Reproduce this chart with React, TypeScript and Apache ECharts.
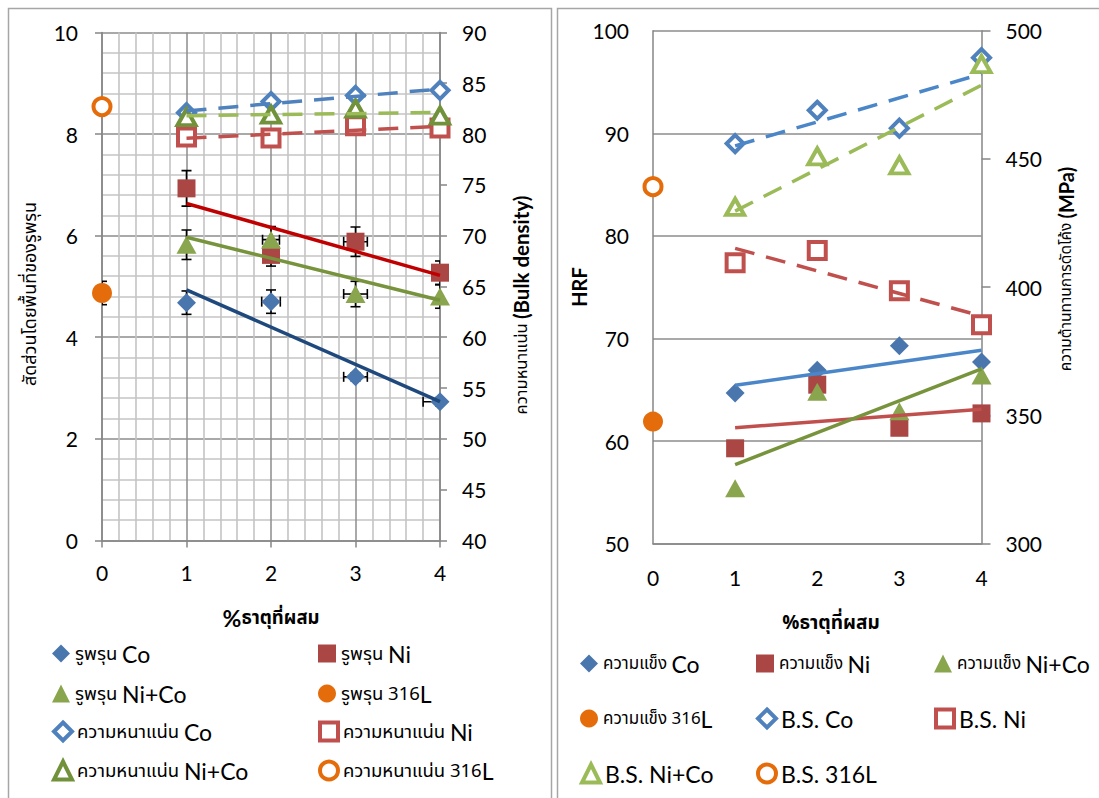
import React, { useEffect, useRef } from "react";
import * as echarts from "echarts";

// ---------- data ----------
const alloyX = [1, 2, 3, 4];
const refX = [0];

// left chart: porosity (area fraction, left axis) with error bars
const poreCo = [4.68, 4.7, 3.22, 2.73];
const poreNi = [6.93, 5.62, 5.88, 5.27];
const poreNiCo = [5.82, 5.92, 4.85, 4.8];
const pore316L = [4.87];
const poreCoErrY = [0.23, 0.23, 0.08, 0.08];
const poreCoErrX = [0, 0.11, 0.14, 0.2];
const poreNiErrY = [0.35, 0.22, 0.29, 0.23];
const poreNiErrX = [0, 0, 0.14, 0];
const poreNiCoErrY = [0.29, 0.26, 0.25, 0.23];
const poreNiCoErrX = [0, 0.1, 0.14, 0];
const pore316LErrY = [0.23];
const pore316LErrX = [0];

// left chart: bulk density (right axis)
const densCo = [82.1, 83.2, 83.8, 84.3];
const densNi = [79.7, 79.6, 80.8, 80.6];
const densNiCo = [81.65, 81.9, 82.5, 81.8];
const dens316L = [82.7];

// right chart: hardness HRF (left axis)
const hrfCo = [64.7, 66.9, 69.3, 67.7];
const hrfNi = [59.3, 65.5, 61.3, 62.7];
const hrfNiCo = [55.4, 64.8, 62.9, 66.4];
const hrf316L = [61.9];

// right chart: bending strength MPa (right axis)
const bsCo = [456, 469, 462, 489.5];
const bsNi = [409.5, 414.3, 398.6, 385.4];
const bsNiCo = [431.3, 451, 447.5, 487];
const bs316L = [439.2];

// ---------- helpers ----------
const pairs = (xs: number[], ys: number[]) => xs.map((x, i) => [x, ys[i]]);
const errRows = (xs: number[], ys: number[], ey: number[], ex: number[]) =>
  xs.map((x, i) => [x, ys[i], ey[i], ex[i]]);
// least squares linear trendline (as Excel's linear trendline)
function trend(xs: number[], ys: number[]) {
  const n = xs.length;
  const mx = xs.reduce((a, b) => a + b, 0) / n;
  const my = ys.reduce((a, b) => a + b, 0) / n;
  let sxy = 0;
  let sxx = 0;
  for (let i = 0; i < n; i++) {
    sxy += (xs[i] - mx) * (ys[i] - my);
    sxx += (xs[i] - mx) * (xs[i] - mx);
  }
  const b = sxy / sxx;
  const a = my - b * mx;
  const x0 = Math.min(...xs);
  const x1 = Math.max(...xs);
  return [
    [x0, a + b * x0],
    [x1, a + b * x1],
  ];
}

const LAT = "Lato, 'Open Sans', 'Liberation Sans', sans-serif";
const THAI = "'Noto Sans Thai', 'Noto Sans Thai UI', 'Noto Sans', 'DejaVu Sans', sans-serif";
const GRID_MAJOR = "#8c8c8c";
const GRID_MINOR = "#c4c4c4";
const OPEN_BORDER = 4;

const richLeft = {
  th: { fontFamily: THAI, fontSize: 18.5, lineHeight: 26, color: "#000" },
  en: { fontFamily: LAT, fontSize: 23, lineHeight: 26, color: "#000" },
};
const richRight = {
  th: { fontFamily: THAI, fontSize: 17, lineHeight: 26, color: "#000" },
  en: { fontFamily: LAT, fontSize: 23, lineHeight: 26, color: "#000" },
};

const legendLabels: Record<string, string> = {
  "รูพรุน Co": "{th|รูพรุน }{en|Co}",
  "รูพรุน Ni": "{th|รูพรุน }{en|Ni}",
  "รูพรุน Ni+Co": "{th|รูพรุน }{en|Ni+Co}",
  "รูพรุน 316L": "{th|รูพรุน 316}{en|L}",
  "ความหนาแน่น Co": "{th|ความหนาแน่น }{en|Co}",
  "ความหนาแน่น Ni": "{th|ความหนาแน่น }{en|Ni}",
  "ความหนาแน่น Ni+Co": "{th|ความหนาแน่น }{en|Ni+Co}",
  "ความหนาแน่น 316L": "{th|ความหนาแน่น 316}{en|L}",
  "ความแข็ง Co": "{th|ความแข็ง }{en|Co}",
  "ความแข็ง Ni": "{th|ความแข็ง }{en|Ni}",
  "ความแข็ง Ni+Co": "{th|ความแข็ง }{en|Ni+Co}",
  "ความแข็ง 316L": "{th|ความแข็ง 316}{en|L}",
  "B.S. Co": "{en|B.S. Co}",
  "B.S. Ni": "{en|B.S. Ni}",
  "B.S. Ni+Co": "{en|B.S. Ni+Co}",
  "B.S. 316L": "{en|B.S. 316L}",
};

const openNames = new Set([
  "ความหนาแน่น Co",
  "ความหนาแน่น Ni",
  "ความหนาแน่น Ni+Co",
  "ความหนาแน่น 316L",
  "B.S. Co",
  "B.S. Ni",
  "B.S. Ni+Co",
  "B.S. 316L",
]);

// legend slots: [name, iconCenterX, rowCenterY]
const legendSlots: [string, number, number][] = [
  ["รูพรุน Co", 61, 655],
  ["รูพรุน Ni", 327, 655],
  ["รูพรุน Ni+Co", 61, 695],
  ["รูพรุน 316L", 327, 695],
  ["ความหนาแน่น Co", 61, 733],
  ["ความหนาแน่น Ni", 327, 733],
  ["ความหนาแน่น Ni+Co", 61, 772],
  ["ความหนาแน่น 316L", 327, 772],
  ["ความแข็ง Co", 589, 665],
  ["ความแข็ง Ni", 765, 665],
  ["ความแข็ง Ni+Co", 943, 665],
  ["ความแข็ง 316L", 589, 720],
  ["B.S. Co", 765, 720],
  ["B.S. Ni", 943, 720],
  ["B.S. Ni+Co", 589, 775],
  ["B.S. 316L", 765, 775],
];

function errorBarRender(params: any, api: any) {
  const x = api.value(0);
  const y = api.value(1);
  const ey = api.value(2);
  const ex = api.value(3);
  const style = { stroke: "#000", lineWidth: 1.6 };
  const cap = 5;
  const children: any[] = [];
  if (ey > 0) {
    const t = api.coord([x, y + ey]);
    const b = api.coord([x, y - ey]);
    children.push({ type: "line", shape: { x1: t[0], y1: t[1], x2: b[0], y2: b[1] }, style });
    children.push({ type: "line", shape: { x1: t[0] - cap, y1: t[1], x2: t[0] + cap, y2: t[1] }, style });
    children.push({ type: "line", shape: { x1: b[0] - cap, y1: b[1], x2: b[0] + cap, y2: b[1] }, style });
  }
  if (ex > 0) {
    const l = api.coord([x - ex, y]);
    const r = api.coord([x + ex, y]);
    children.push({ type: "line", shape: { x1: l[0], y1: l[1], x2: r[0], y2: r[1] }, style });
    children.push({ type: "line", shape: { x1: l[0], y1: l[1] - cap, x2: l[0], y2: l[1] + cap }, style });
    children.push({ type: "line", shape: { x1: r[0], y1: r[1] - cap, x2: r[0], y2: r[1] + cap }, style });
  }
  return { type: "group", children };
}

function filled(name: string, xi: number, yi: number, data: number[][], symbol: string, size: any, color: string) {
  return {
    type: "scatter",
    name,
    xAxisIndex: xi,
    yAxisIndex: yi,
    data,
    symbol,
    symbolSize: size,
    itemStyle: { color, opacity: 1 },
    z: 4,
    silent: true,
  };
}
function open(name: string, xi: number, yi: number, data: number[][], symbol: string, size: any, color: string) {
  return {
    type: "scatter",
    name,
    xAxisIndex: xi,
    yAxisIndex: yi,
    data,
    symbol,
    symbolSize: size,
    itemStyle: { color: "#ffffff", borderColor: color, borderWidth: OPEN_BORDER, opacity: 1 },
    z: 4,
    silent: true,
  };
}
function trendLine(xi: number, yi: number, pts: number[][], color: string, dashed: boolean) {
  return {
    type: "line",
    name: "trend",
    xAxisIndex: xi,
    yAxisIndex: yi,
    data: pts,
    symbol: "none",
    showSymbol: false,
    silent: true,
    z: 5,
    lineStyle: { color, width: 3.5, type: dashed ? [20, 12] : "solid", cap: "butt" },
  };
}

export default function App() {
  const ref = useRef<HTMLDivElement>(null);
  useEffect(() => {
    if (!ref.current) return;
    const chart = echarts.init(ref.current, undefined, { renderer: "svg" });

    const axisLineStyle = { color: "#868686", width: 1.5 };
    const labelStyle = { fontFamily: LAT, fontSize: 21, color: "#000" };

    const option: any = {
      animation: false,
      backgroundColor: "#ffffff",
      grid: [
        { left: 102, top: 32.4, width: 338, height: 508, containLabel: false },
        { left: 653, top: 30.7, width: 328.5, height: 513, containLabel: false },
      ],
      xAxis: [
        {
          type: "value",
          gridIndex: 0,
          min: 0,
          max: 4,
          interval: 1,
          axisLine: { show: true, onZero: false, lineStyle: axisLineStyle },
          axisTick: { show: true, length: 7, lineStyle: axisLineStyle },
          axisLabel: { ...labelStyle, margin: 22 },
          splitLine: { show: true, lineStyle: { color: GRID_MAJOR, width: 1.5 } },
          minorTick: { show: false, splitNumber: 5 },
          minorSplitLine: { show: true, lineStyle: { color: GRID_MINOR, width: 1.6 } },
        },
        {
          type: "value",
          gridIndex: 1,
          min: 0,
          max: 4,
          interval: 1,
          axisLine: { show: true, onZero: false, lineStyle: axisLineStyle },
          axisTick: { show: false },
          axisLabel: { ...labelStyle, margin: 23 },
          splitLine: { show: false },
        },
      ],
      yAxis: [
        {
          type: "value",
          gridIndex: 0,
          position: "left",
          min: 0,
          max: 10,
          interval: 2,
          axisLine: { show: true, onZero: false, lineStyle: axisLineStyle },
          axisTick: { show: true, length: 7, lineStyle: axisLineStyle },
          axisLabel: { ...labelStyle, margin: 24 },
          splitLine: { show: true, lineStyle: { color: GRID_MAJOR, width: 1.5 } },
          minorTick: { show: false, splitNumber: 5 },
          minorSplitLine: { show: true, lineStyle: { color: GRID_MINOR, width: 1.6 } },
        },
        {
          type: "value",
          gridIndex: 0,
          position: "right",
          min: 40,
          max: 90,
          interval: 5,
          axisLine: { show: true, onZero: false, lineStyle: axisLineStyle },
          axisTick: { show: true, length: 7, lineStyle: axisLineStyle },
          axisLabel: { ...labelStyle, margin: 22 },
          splitLine: { show: false },
        },
        {
          type: "value",
          gridIndex: 1,
          position: "left",
          min: 50,
          max: 100,
          interval: 10,
          axisLine: { show: true, onZero: false, lineStyle: axisLineStyle },
          axisTick: { show: false },
          axisLabel: { ...labelStyle, margin: 24 },
          splitLine: { show: true, lineStyle: { color: GRID_MAJOR, width: 1.5 } },
        },
        {
          type: "value",
          gridIndex: 1,
          position: "right",
          min: 300,
          max: 500,
          interval: 50,
          axisLine: { show: true, onZero: false, lineStyle: axisLineStyle },
          axisTick: { show: true, length: 9, lineStyle: axisLineStyle },
          axisLabel: { ...labelStyle, margin: 24 },
          splitLine: { show: false },
        },
      ],
      legend: legendSlots.map(([name, cx, cy]) => ({
        data: [
          openNames.has(name)
            ? { name, itemStyle: { borderWidth: OPEN_BORDER } }
            : { name },
        ],
        left: cx - 9,
        top: cy - 13,
        padding: 0,
        itemWidth: 18,
        itemHeight: 18,
        itemGap: 0,
        selectedMode: false,
        formatter: (n: string) => legendLabels[n] || n,
        textStyle: { rich: cx < 550 ? richLeft : richRight },
      })),
      graphic: [
        { type: "rect", shape: { x: 8.5, y: 8.5, width: 543, height: 800 }, style: { fill: "none", stroke: "#a6a6a6", lineWidth: 1.5 }, silent: true },
        { type: "rect", shape: { x: 557.5, y: 8.5, width: 560, height: 800 }, style: { fill: "none", stroke: "#a6a6a6", lineWidth: 1.5 }, silent: true },
        {
          type: "text",
          x: 30,
          y: 294,
          rotation: Math.PI / 2,
          style: { text: "สัดส่วนโดยพื้นที่ของรูพรุน", fontFamily: THAI, fontSize: 18, fill: "#000", align: "center", verticalAlign: "middle" },
        },
        {
          type: "text",
          x: 521,
          y: 305,
          rotation: Math.PI / 2,
          style: {
            text: "{th|ความหนาแน่น }{en|(Bulk density)}",
            align: "center",
            verticalAlign: "middle",
            rich: {
              th: { fontFamily: THAI, fontSize: 16.5, fill: "#000" },
              en: { fontFamily: LAT, fontSize: 20.5, fontWeight: "bold", fill: "#000" },
            },
          },
        },
        {
          type: "text",
          x: 271,
          y: 618,
          style: {
            text: "{en|%}{th|ธาตุที่ผสม}",
            align: "center",
            verticalAlign: "middle",
            rich: {
              th: { fontFamily: THAI, fontSize: 18.5, fontWeight: "bold", fill: "#000" },
              en: { fontFamily: LAT, fontSize: 23, fontWeight: "bold", fill: "#000" },
            },
          },
        },
        {
          type: "text",
          x: 579,
          y: 287,
          rotation: Math.PI / 2,
          style: { text: "HRF", fontFamily: LAT, fontSize: 20, fontWeight: "bold", fill: "#000", align: "center", verticalAlign: "middle" },
        },
        {
          type: "text",
          x: 1066,
          y: 269,
          rotation: Math.PI / 2,
          style: {
            text: "{th|ความต้านทานการดัดโค้ง }{en|(MPa)}",
            align: "center",
            verticalAlign: "middle",
            rich: {
              th: { fontFamily: THAI, fontSize: 15.5, fill: "#000" },
              en: { fontFamily: LAT, fontSize: 20, fontWeight: "bold", fill: "#000" },
            },
          },
        },
        {
          type: "text",
          x: 831,
          y: 623,
          style: { text: "%ธาตุที่ผสม", fontFamily: THAI, fontSize: 19, fontWeight: "bold", fill: "#000", align: "center", verticalAlign: "middle" },
        },
      ],
      series: [
        // ----- left chart -----
        {
          type: "custom",
          name: "errbars",
          xAxisIndex: 0,
          yAxisIndex: 0,
          clip: true,
          z: 3,
          silent: true,
          renderItem: errorBarRender,
          encode: { x: 0, y: 1 },
          data: [
            ...errRows(alloyX, poreCo, poreCoErrY, poreCoErrX),
            ...errRows(alloyX, poreNi, poreNiErrY, poreNiErrX),
            ...errRows(alloyX, poreNiCo, poreNiCoErrY, poreNiCoErrX),
            ...errRows(refX, pore316L, pore316LErrY, pore316LErrX),
          ],
        },
        filled("รูพรุน Co", 0, 0, pairs(alloyX, poreCo), "diamond", 19, "#4A76AE"),
        filled("รูพรุน Ni", 0, 0, pairs(alloyX, poreNi), "rect", 18, "#AA4643"),
        filled("รูพรุน Ni+Co", 0, 0, pairs(alloyX, poreNiCo), "triangle", [20, 18], "#89A54E"),
        filled("รูพรุน 316L", 0, 0, pairs(refX, pore316L), "circle", 20, "#E46C0A"),
        open("ความหนาแน่น Co", 0, 1, pairs(alloyX, densCo), "diamond", 17, "#4F81BD"),
        open("ความหนาแน่น Ni", 0, 1, pairs(alloyX, densNi), "rect", 17, "#C0504D"),
        open("ความหนาแน่น Ni+Co", 0, 1, pairs(alloyX, densNiCo), "triangle", [18, 16], "#71913A"),
        open("ความหนาแน่น 316L", 0, 1, pairs(refX, dens316L), "circle", 17, "#E46C0A"),
        trendLine(0, 0, trend(alloyX, poreCo), "#1F497D", false),
        trendLine(0, 0, trend(alloyX, poreNi), "#C00000", false),
        trendLine(0, 0, trend(alloyX, poreNiCo), "#77933C", false),
        trendLine(0, 1, trend(alloyX, densCo), "#4F81BD", true),
        trendLine(0, 1, trend(alloyX, densNi), "#C0504D", true),
        trendLine(0, 1, trend(alloyX, densNiCo), "#9BBB59", true),
        // ----- right chart -----
        filled("ความแข็ง Co", 1, 2, pairs(alloyX, hrfCo), "diamond", 19, "#4A76AE"),
        filled("ความแข็ง Ni", 1, 2, pairs(alloyX, hrfNi), "rect", 18, "#AA4643"),
        filled("ความแข็ง Ni+Co", 1, 2, pairs(alloyX, hrfNiCo), "triangle", [20, 18], "#89A54E"),
        filled("ความแข็ง 316L", 1, 2, pairs(refX, hrf316L), "circle", 20, "#E46C0A"),
        open("B.S. Co", 1, 3, pairs(alloyX, bsCo), "diamond", 17, "#4F81BD"),
        open("B.S. Ni", 1, 3, pairs(alloyX, bsNi), "rect", 17, "#C0504D"),
        open("B.S. Ni+Co", 1, 3, pairs(alloyX, bsNiCo), "triangle", [18, 16], "#9BBB59"),
        open("B.S. 316L", 1, 3, pairs(refX, bs316L), "circle", 17, "#E46C0A"),
        trendLine(1, 2, trend(alloyX, hrfCo), "#4A86C8", false),
        trendLine(1, 2, trend(alloyX, hrfNi), "#C0504D", false),
        trendLine(1, 2, trend(alloyX, hrfNiCo), "#77933C", false),
        trendLine(1, 3, trend(alloyX, bsCo), "#4A86C8", true),
        trendLine(1, 3, trend(alloyX, bsNi), "#C0504D", true),
        trendLine(1, 3, trend(alloyX, bsNiCo), "#9BBB59", true),
      ],
    };
    chart.setOption(option);
    return () => chart.dispose();
  }, []);
  return (
    <div
      ref={ref}
      style={{ position: "absolute", left: 0, top: 0, width: 1099, height: 798, background: "#fff" }}
    />
  );
}
